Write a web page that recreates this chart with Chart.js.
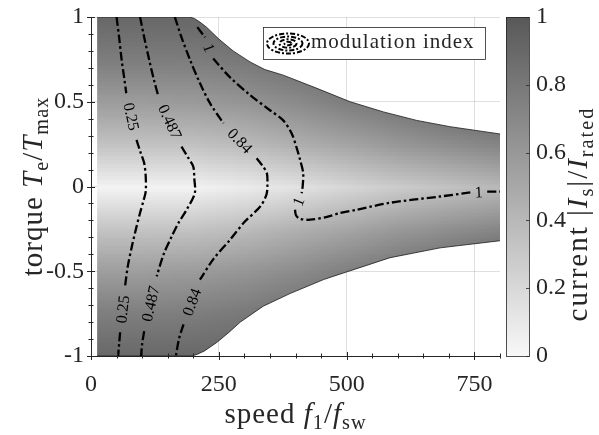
<!DOCTYPE html>
<html>
<head>
<meta charset="utf-8">
<script src="https://cdn.jsdelivr.net/npm/chart.js@4.4.1/dist/chart.umd.min.js"></script>
<style>
  html, body { margin: 0; padding: 0; background: #fff; }
  #wrap { width: 599px; height: 435px; }
</style>
</head>
<body>
<div id="wrap"><canvas id="mapChart" width="599" height="435"></canvas></div>
<script>
var speedTicks = [0, 250, 500, 750];
var torqueTicks = [-1, -0.5, 0, 0.5, 1];
var currentTicks = [0, 0.2, 0.4, 0.6, 0.8, 1];

// current |Is|/Irated read on a coarse grid (rows = torque, cols = speed)
var gridSpeeds = [0, 100, 200, 300, 400, 500, 600, 700, 800];
var gridTorques = [1, 0.75, 0.5, 0.25, 0, -0.25, -0.5, -0.75, -1];
var gridCurrent = [
    [0.90, 0.90, 0.90, 0.92, 0.95, 0.97, 1.00, 1.00, 1.00],
    [0.76, 0.76, 0.77, 0.80, 0.86, 0.92, 0.97, 1.00, 1.00],
    [0.57, 0.57, 0.58, 0.62, 0.68, 0.76, 0.84, 0.92, 0.98],
    [0.33, 0.33, 0.34, 0.38, 0.45, 0.52, 0.60, 0.66, 0.72],
    [0.03, 0.03, 0.04, 0.08, 0.14, 0.21, 0.28, 0.34, 0.40],
    [0.33, 0.33, 0.34, 0.38, 0.45, 0.52, 0.60, 0.66, 0.72],
    [0.57, 0.57, 0.58, 0.62, 0.68, 0.76, 0.84, 0.92, 0.98],
    [0.76, 0.76, 0.77, 0.80, 0.86, 0.92, 0.97, 1.00, 1.00],
    [0.90, 0.90, 0.90, 0.92, 0.95, 0.97, 1.00, 1.00, 1.00]
];

// operating limit
var upperSpeed = [12, 194, 203, 213, 226, 250, 278, 311, 340, 376, 442, 507, 572, 637, 702, 800];
var upperTorque = [1, 1, 0.99, 0.97, 0.94, 0.87, 0.80, 0.735, 0.69, 0.657, 0.579, 0.5, 0.44, 0.39, 0.353, 0.31];
var lowerSpeed = [12, 197, 208, 222, 246, 270, 292, 337, 389, 455, 494, 585, 683, 800];
var lowerTorque = [-1, -1, -0.99, -0.97, -0.92, -0.86, -0.80, -0.706, -0.632, -0.549, -0.51, -0.42, -0.362, -0.32];

// modulation index contours, split where the labels sit
var levels = ['0.25', '0.487', '0.84', '1'];
var m025 = [
    [[50, 1], [55, 0.88], [60, 0.745], [65, 0.64], [69, 0.55]],
    [[89, 0.275], [97, 0.2], [104, 0.138], [107, 0.06], [107, -0.03], [103, -0.08], [96, -0.155], [88, -0.25], [80, -0.353], [72, -0.47], [66.5, -0.59]],
    [[57, -0.86], [55, -0.93], [53, -1]]
];
var m0487 = [
    [[96, 1], [104, 0.88], [114, 0.745], [123, 0.63], [132, 0.53]],
    [[177, 0.235], [190, 0.17], [200, 0.118], [202, 0.05], [203, -0.04], [187, -0.137], [172, -0.21], [158, -0.294], [142, -0.4], [128.5, -0.53]],
    [[104, -0.853], [100, -0.93], [98, -1]]
];
var m084 = [
    [[164, 1], [177, 0.88], [194, 0.745], [213, 0.61], [233, 0.49], [259, 0.373]],
    [[324, 0.167], [336, 0.12], [344, 0.079], [345, 0], [343, -0.05], [331, -0.118], [300, -0.21], [272, -0.314], [239, -0.43], [213, -0.55]],
    [[181, -0.813], [172, -0.9], [166, -1]]
];
var m1 = [
    [[208, 0.94], [223, 0.88]],
    [[239, 0.755], [270, 0.65], [311, 0.54], [350, 0.45], [376, 0.39], [393, 0.31], [403, 0.22], [409, 0.157], [415, 0.08], [414, 0], [412, -0.04]],
    [[399, -0.137], [401, -0.17], [408, -0.19], [429, -0.196], [460, -0.18], [487, -0.157], [520, -0.137], [585, -0.096], [683, -0.059], [742, -0.035]],
    [[775, -0.03], [800, -0.03]]
];
var contours = [m025, m0487, m084, m1];

var axisColor = '#262626';
var serif = "'Liberation Serif', 'Times New Roman', serif";

function shade(v) {
    v = Math.max(0, Math.min(1, v));
    var g = Math.round(248 - v * 160);
    return 'rgb(' + g + ',' + g + ',' + g + ')';
}

function toPoints(xs, ys) {
    return xs.map(function (s, i) { return { x: s, y: ys[i] }; });
}

function pairs(seg) {
    return seg.map(function (p) { return { x: p[0], y: p[1] }; });
}

function plainLabel(value) {
    return String(value);
}

function noPadding(scale) {
    scale.paddingTop = 0;
    scale.paddingBottom = 0;
}

function drawRich(ctx, parts, size, cx, cy, rot, spacing) {
    ctx.save();
    ctx.translate(cx, cy);
    ctx.rotate(rot);
    ctx.fillStyle = axisColor;
    ctx.textBaseline = 'alphabetic';
    ctx.letterSpacing = spacing + 'px';
    var total = 0;
    parts.forEach(function (p) {
        ctx.font = (p.i ? 'italic ' : '') + (p.sub ? size * 0.7 : size) + 'px ' + serif;
        p.w = ctx.measureText(p.t).width;
        total += p.w;
    });
    var xpos = -total / 2;
    parts.forEach(function (p) {
        ctx.font = (p.i ? 'italic ' : '') + (p.sub ? size * 0.7 : size) + 'px ' + serif;
        ctx.fillText(p.t, xpos, p.sub ? size * 0.22 : 0);
        xpos += p.w;
    });
    ctx.restore();
}

var datasets = [];
contours.forEach(function (segs) {
    segs.forEach(function (seg) {
        datasets.push({
            data: pairs(seg),
            borderColor: '#000',
            borderWidth: 2.3,
            borderDash: [9, 3, 2.5, 3],
            pointRadius: 0,
            tension: 0.3,
            fill: false
        });
    });
});
datasets.push({
    data: toPoints(upperSpeed, upperTorque),
    borderColor: '#1a1a1a', borderWidth: 0.8, pointRadius: 0, tension: 0, fill: false
});
datasets.push({
    data: toPoints(lowerSpeed, lowerTorque),
    borderColor: '#1a1a1a', borderWidth: 0.8, pointRadius: 0, tension: 0, fill: false
});

var fieldPlugin = {
    id: 'field',
    beforeDatasetsDraw: function (chart) {
        var ctx = chart.ctx, x = chart.scales.x, y = chart.scales.y;
        var cols = gridSpeeds.length, rows = gridTorques.length;
        var img = document.createElement('canvas');
        img.width = cols;
        img.height = rows;
        var ictx = img.getContext('2d');
        var id = ictx.createImageData(cols, rows);
        for (var r = 0; r < rows; r++) {
            for (var c = 0; c < cols; c++) {
                var g = Math.round(248 - Math.max(0, Math.min(1, gridCurrent[r][c])) * 160);
                var k = (r * cols + c) * 4;
                id.data[k] = g; id.data[k + 1] = g; id.data[k + 2] = g; id.data[k + 3] = 255;
            }
        }
        ictx.putImageData(id, 0, 0);
        var ds = (gridSpeeds[1] - gridSpeeds[0]) / 2;
        var dt = (gridTorques[0] - gridTorques[1]) / 2;
        var left = x.getPixelForValue(gridSpeeds[0] - ds);
        var right = x.getPixelForValue(gridSpeeds[cols - 1] + ds);
        var top = y.getPixelForValue(gridTorques[0] + dt);
        var bottom = y.getPixelForValue(gridTorques[rows - 1] - dt);

        ctx.save();
        ctx.beginPath();
        upperSpeed.forEach(function (s, i) {
            var px = x.getPixelForValue(s), py = y.getPixelForValue(upperTorque[i]);
            if (i === 0) ctx.moveTo(px, py); else ctx.lineTo(px, py);
        });
        for (var i = lowerSpeed.length - 1; i >= 0; i--) {
            ctx.lineTo(x.getPixelForValue(lowerSpeed[i]), y.getPixelForValue(lowerTorque[i]));
        }
        ctx.closePath();
        ctx.clip();
        ctx.imageSmoothingEnabled = true;
        ctx.imageSmoothingQuality = 'low';
        ctx.drawImage(img, left, top, right - left, bottom - top);
        ctx.restore();
    }
};

var labelPlugin = {
    id: 'contourLabels',
    afterDatasetsDraw: function (chart) {
        var ctx = chart.ctx, x = chart.scales.x, y = chart.scales.y;
        ctx.save();
        ctx.fillStyle = '#000';
        ctx.font = '16px ' + serif;
        ctx.textAlign = 'center';
        ctx.textBaseline = 'middle';
        contours.forEach(function (segs, ci) {
            for (var i = 0; i < segs.length - 1; i++) {
                var a = segs[i][segs[i].length - 1], b = segs[i + 1][0];
                var ax = x.getPixelForValue(a[0]), ay = y.getPixelForValue(a[1]);
                var bx = x.getPixelForValue(b[0]), by = y.getPixelForValue(b[1]);
                var ang = Math.atan2(by - ay, bx - ax);
                if (ang > Math.PI / 2) ang -= Math.PI;
                if (ang < -Math.PI / 2) ang += Math.PI;
                ctx.save();
                ctx.translate((ax + bx) / 2, (ay + by) / 2);
                ctx.rotate(ang);
                ctx.fillText(levels[ci], 0, 1);
                ctx.restore();
            }
        });
        ctx.restore();
    }
};

var decorPlugin = {
    id: 'decor',
    afterDraw: function (chart) {
        var ctx = chart.ctx, a = chart.chartArea;
        var x = chart.scales.x, y = chart.scales.y, yc = chart.scales.yc;

        // major and minor ticks, both sides of the axis
        ctx.save();
        ctx.strokeStyle = axisColor;
        ctx.lineWidth = 1;
        ctx.beginPath();
        for (var s = 0; s <= 800; s += 50) {
            var len = speedTicks.indexOf(s) >= 0 ? 4 : 2.5;
            var px = Math.round(x.getPixelForValue(s)) + 0.5;
            ctx.moveTo(px, a.bottom - len);
            ctx.lineTo(px, a.bottom + len);
        }
        for (var k = -10; k <= 10; k++) {
            var t = k / 10;
            var lenY = (k % 5 === 0) ? 4 : 2.5;
            var py = Math.round(y.getPixelForValue(t)) + 0.5;
            ctx.moveTo(a.left - lenY, py);
            ctx.lineTo(a.left + lenY, py);
        }
        ctx.stroke();

        // colorbar
        var cx0 = a.right + 6, cw = 23;
        var cTop = yc.getPixelForValue(1), cBot = yc.getPixelForValue(0);
        var grad = ctx.createLinearGradient(0, cBot, 0, cTop);
        grad.addColorStop(0, shade(0));
        grad.addColorStop(1, shade(1));
        ctx.fillStyle = grad;
        ctx.fillRect(cx0, cTop, cw, cBot - cTop);
        ctx.lineWidth = 0.8;
        ctx.strokeRect(cx0 + 0.5, cTop + 0.5, cw, cBot - cTop);
        ctx.beginPath();
        currentTicks.forEach(function (v) {
            var py = Math.round(yc.getPixelForValue(v)) + 0.5;
            ctx.moveTo(cx0 + cw - 3, py);
            ctx.lineTo(cx0 + cw + 0.5, py);
        });
        ctx.stroke();

        // legend
        var lx = 263, ly = 27, lw = 222, lh = 32;
        ctx.fillStyle = '#fff';
        ctx.fillRect(lx, ly, lw, lh);
        ctx.strokeStyle = axisColor;
        ctx.lineWidth = 0.8;
        ctx.strokeRect(lx + 0.5, ly + 0.5, lw, lh);
        ctx.strokeStyle = '#000';
        ctx.lineWidth = 2;
        ctx.setLineDash([5, 2, 2, 2]);
        [[21, 10], [14.5, 7], [8.5, 4.2], [3.5, 1.8]].forEach(function (r) {
            ctx.beginPath();
            ctx.ellipse(lx + 25, ly + 16.5, r[0], r[1], 0, 0, Math.PI * 2);
            ctx.stroke();
        });
        ctx.setLineDash([]);
        ctx.fillStyle = axisColor;
        ctx.font = '21px ' + serif;
        ctx.letterSpacing = '1px';
        ctx.textBaseline = 'alphabetic';
        ctx.textAlign = 'left';
        ctx.fillText('modulation index', lx + 48, ly + 21);
        ctx.letterSpacing = '0px';
        ctx.restore();

        // axis titles
        drawRich(ctx, [{ t: 'speed ' }, { t: 'f', i: true }, { t: '1', sub: true }, { t: '/' }, { t: 'f', i: true }, { t: 'sw', sub: true }],
            29, (a.left + a.right) / 2, 423, 0, 1);
        drawRich(ctx, [{ t: 'torque ' }, { t: 'T', i: true }, { t: 'e', sub: true }, { t: '/' }, { t: 'T', i: true }, { t: 'max', sub: true }],
            29, 42, (a.top + a.bottom) / 2, -Math.PI / 2, 1);
        drawRich(ctx, [{ t: 'current ' }, { t: '|' }, { t: 'I', i: true }, { t: 's', sub: true }, { t: '|' }, { t: '/' }, { t: 'I', i: true }, { t: 'rated', sub: true }],
            29, 587, 214, -Math.PI / 2, 2);
    }
};

var ctx = document.getElementById('mapChart').getContext('2d');
var myChart = new Chart(ctx, {
    type: 'line',
    data: { datasets: datasets },
    options: {
        responsive: false,
        animation: false,
        layout: { padding: { top: 17, left: 0, right: 0, bottom: 0 } },
        plugins: { legend: { display: false }, tooltip: { enabled: false } },
        scales: {
            x: {
                type: 'linear', min: 0, max: 800, z: 1,
                afterBuildTicks: function (scale) { scale.ticks = speedTicks.map(function (v) { return { value: v }; }); },
                afterFit: function (scale) { scale.height = 79; scale.paddingLeft = 0; scale.paddingRight = 0; },
                ticks: { font: { family: serif, size: 24 }, color: axisColor, padding: 14, maxRotation: 0, autoSkip: false, callback: plainLabel },
                grid: { color: 'rgba(38,38,38,0.15)', lineWidth: 1, drawTicks: false },
                border: { display: true, color: axisColor, width: 1 }
            },
            y: {
                type: 'linear', min: -1, max: 1, z: 1,
                afterBuildTicks: function (scale) { scale.ticks = torqueTicks.map(function (v) { return { value: v }; }); },
                afterFit: function (scale) { scale.width = 91; noPadding(scale); },
                ticks: { font: { family: serif, size: 24 }, color: axisColor, padding: 7, autoSkip: false, callback: plainLabel },
                grid: { color: 'rgba(38,38,38,0.15)', lineWidth: 1, drawTicks: false },
                border: { display: true, color: axisColor, width: 1 }
            },
            yc: {
                type: 'linear', position: 'right', min: 0, max: 1,
                afterBuildTicks: function (scale) { scale.ticks = currentTicks.map(function (v) { return { value: v }; }); },
                afterFit: function (scale) { scale.width = 99; noPadding(scale); },
                ticks: { font: { family: serif, size: 24 }, color: axisColor, padding: 36, autoSkip: false, callback: plainLabel },
                grid: { display: false, drawTicks: false },
                border: { display: false }
            }
        }
    },
    plugins: [fieldPlugin, labelPlugin, decorPlugin]
});
</script>
</body>
</html>
